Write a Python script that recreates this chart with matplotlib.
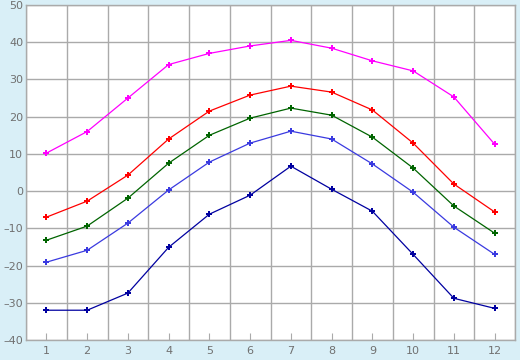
import matplotlib
matplotlib.use('Agg')
import matplotlib.pyplot as plt

# Meses e temperaturas
meses = list(range(1, 13))
maxima_absoluta = [10.2, 16.0, 25.0, 34.0, 37.0, 39.0, 40.5, 38.4, 35.0, 32.3, 25.3, 12.6]
maxima_media = [-7.0, -2.7, 4.3, 14.0, 21.5, 25.8, 28.2, 26.6, 21.8, 12.9, 1.9, -5.6]
media = [-13.2, -9.4, -1.9, 7.5, 15.0, 19.6, 22.3, 20.4, 14.5, 6.2, -4.0, -11.3]
minima_media = [-19.1, -15.9, -8.6, 0.3, 7.8, 12.9, 16.1, 14.0, 7.3, -0.3, -9.7, -17.0]
minima_absoluta = [-32.0, -32.0, -27.4, -15.1, -6.2, -1.1, 6.7, 0.5, -5.4, -17.0, -28.8, -31.5]

fundo = '#d9eff7'
cor_texto = '#707070'

fig = plt.figure(figsize=(5.2, 3.6), dpi=100, facecolor=fundo)
ax = fig.add_axes([26 / 520, 20 / 360, 489 / 520, 335 / 360])
ax.set_facecolor('white')

series = [
    (maxima_absoluta, '#ff00ff'),
    (maxima_media, '#ff0000'),
    (media, '#006400'),
    (minima_media, '#3a3ae0'),
    (minima_absoluta, '#0000a0'),
]
for valores, cor in series:
    ax.plot(meses, valores, color=cor, linewidth=0.9, marker='P',
            markersize=4, markeredgewidth=0)

ax.set_xlim(0.5, 12.5)
ax.set_ylim(-40, 50)
ax.set_xticks(meses)
ax.set_xticks([m + 0.5 for m in range(0, 13)], minor=True)
ax.set_yticks(range(-40, 51, 10))
ax.set_yticklabels([str(v).replace('-', '\u2013') for v in range(-40, 51, 10)])

ax.grid(True, which='minor', axis='x', color='#aaaaaa', linewidth=1)
ax.grid(True, which='major', axis='y', color='#aaaaaa', linewidth=1)
ax.set_axisbelow(True)

ax.tick_params(axis='both', which='both', length=0, labelsize=8, colors=cor_texto)
ax.tick_params(axis='x', which='major', length=5, color='#aaaaaa', direction='in', pad=4)
ax.tick_params(axis='y', pad=2)
for lado in ax.spines.values():
    lado.set_color('#aaaaaa')
    lado.set_linewidth(1)

plt.savefig('out.png', dpi=100, facecolor=fundo)
